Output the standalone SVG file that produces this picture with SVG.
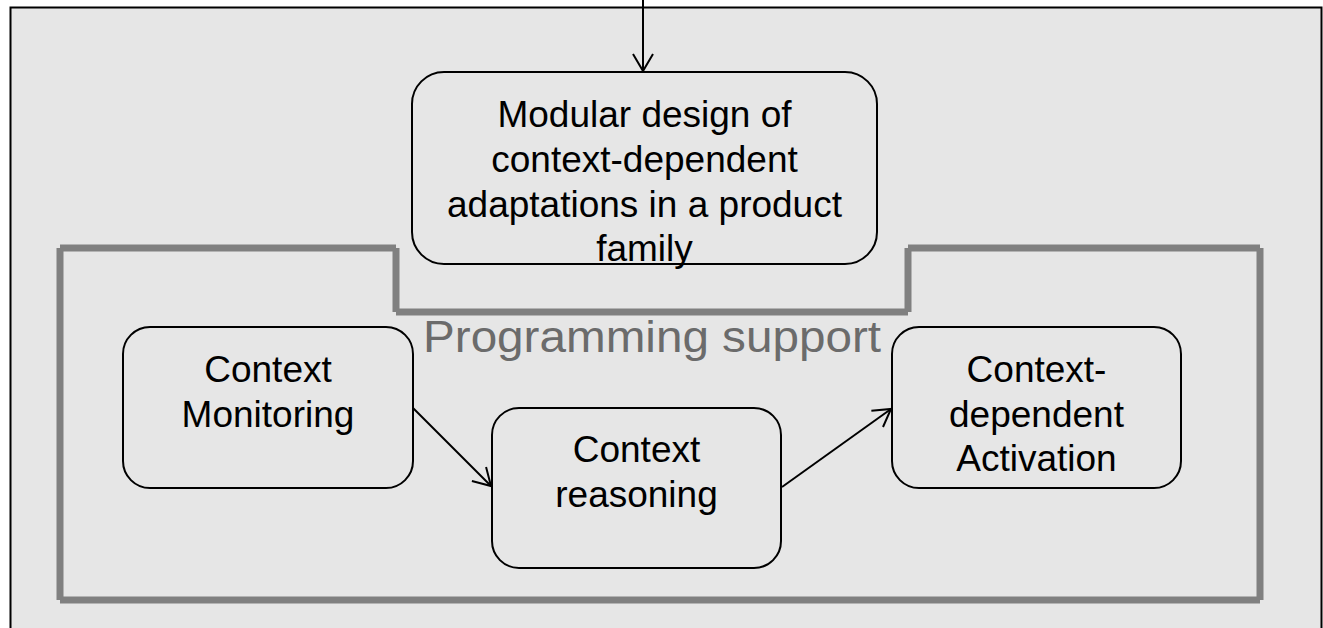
<svg xmlns="http://www.w3.org/2000/svg" width="1323" height="628" viewBox="0 0 1323 628">
  <defs>
    <marker id="arrow" markerUnits="userSpaceOnUse" markerWidth="22" markerHeight="24" refX="17" refY="10" orient="auto" overflow="visible">
      <path d="M0,0 L17,10 L0,20" fill="none" stroke="#000" stroke-width="2"/>
    </marker>
    <style>
      .frame { fill: #e6e6e6; stroke: #000; stroke-width: 2; }
      .node rect { fill: none; stroke: #000; stroke-width: 2; }
      .node text { font-family: "Liberation Sans", Arial, sans-serif; font-size: 37px; fill: #000; text-anchor: middle; }
      .wall { stroke: #808080; stroke-width: 7; fill: none; stroke-linecap: butt; }
      .label { font-family: "Liberation Sans", Arial, sans-serif; font-size: 45px; fill: #6b6b6b; }
      .edge { stroke: #000; stroke-width: 2; fill: none; marker-end: url(#arrow); }
    </style>
  </defs>

  <rect width="1323" height="628" fill="#ffffff"/>
  <rect class="frame" x="10.5" y="7.5" width="1311" height="640"/>

  <g id="programming-support">
    <line class="wall" x1="60" y1="248" x2="60" y2="600"/>
    <line class="wall" x1="60" y1="248" x2="396" y2="248"/>
    <line class="wall" x1="396" y1="248" x2="396" y2="312"/>
    <line class="wall" x1="396" y1="312" x2="908" y2="312"/>
    <line class="wall" x1="908" y1="248" x2="908" y2="312"/>
    <line class="wall" x1="908" y1="248" x2="1260" y2="248"/>
    <line class="wall" x1="1260" y1="248" x2="1260" y2="600"/>
    <line class="wall" x1="60" y1="600" x2="1260" y2="600"/>
    <text class="label" x="423" y="352" textLength="458" lengthAdjust="spacingAndGlyphs">Programming support</text>
  </g>

  <g id="modular-design" class="node">
    <rect x="412" y="72" width="465" height="192" rx="32" ry="32"/>
    <text x="644.5" y="127">Modular design of</text>
    <text x="644.5" y="172">context-dependent</text>
    <text x="644.5" y="217">adaptations in a product</text>
    <text x="644.5" y="261">family</text>
  </g>

  <g id="context-monitoring" class="node">
    <rect x="123" y="327" width="290" height="161" rx="27" ry="27"/>
    <text x="268" y="382">Context</text>
    <text x="268" y="427">Monitoring</text>
  </g>

  <g id="context-reasoning" class="node">
    <rect x="492" y="408" width="289" height="160" rx="27" ry="27"/>
    <text x="636.5" y="462">Context</text>
    <text x="636.5" y="507">reasoning</text>
  </g>

  <g id="context-activation" class="node">
    <rect x="892" y="327" width="289" height="161" rx="27" ry="27"/>
    <text x="1036.5" y="382">Context-</text>
    <text x="1036.5" y="427">dependent</text>
    <text x="1036.5" y="471">Activation</text>
  </g>

  <g id="connectors">
    <line class="edge" x1="643" y1="0" x2="643" y2="71"/>
    <line class="edge" x1="413" y1="408" x2="491" y2="486"/>
    <line class="edge" x1="782" y1="487" x2="891" y2="409"/>
  </g>
</svg>
